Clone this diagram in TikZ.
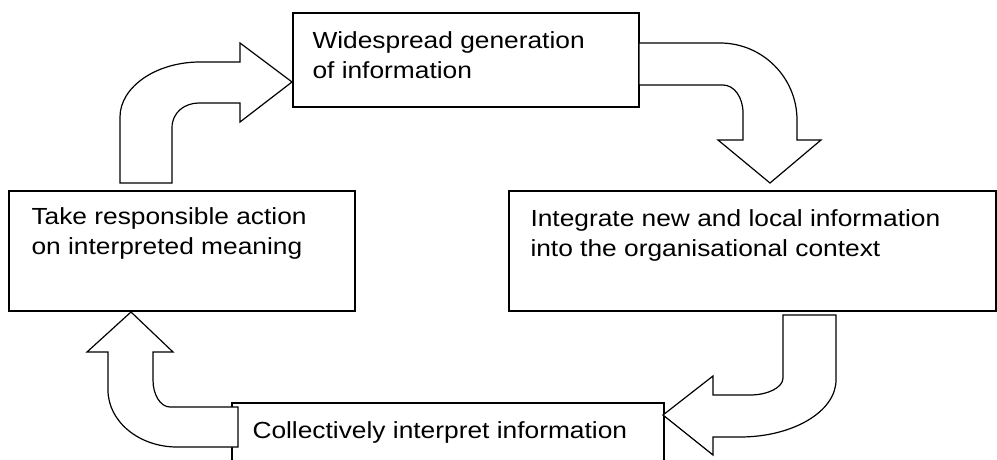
\documentclass[tikz,border=0pt]{standalone}
\usepackage{fontspec}
\setmainfont{Liberation Sans}[FakeStretch=1.13]
\usetikzlibrary{positioning}

\begin{document}
\begin{tikzpicture}[x=1pt, y=-1pt, box/.style={draw, line width=1.4pt, inner sep=0pt}, txt/.style={inner sep=0pt, align=left, font=\fontsize{23.3}{30}\selectfont}, blockarrow/.style={draw, fill=white, line width=1.2pt, line join=miter}]
\useasboundingbox (0,0) rectangle (997,460);
\clip (0,0) rectangle (997,460);
% the four stages
\node[box, minimum width=346pt, minimum height=94pt] (gen) at (466,60) {};
\node[box, minimum width=346pt, minimum height=120pt] (act) at (182,251) {};
\node[box, minimum width=487pt, minimum height=120pt] (integ) at (752.5,251) {};
\node[box, minimum width=432pt, minimum height=100pt] (interp) at (448,453) {};
\node[txt, below right=19pt and 20pt of gen.north west] (genT) {Widespread generation\\of information};
\node[txt, below right=17.5pt and 23pt of act.north west] (actT) {Take responsible action\\on interpreted meaning};
\node[txt, below right=19pt and 22pt of integ.north west] (integT) {Integrate new and local information\\into the organisational context};
\node[txt, below right=19.5pt and 21pt of interp.north west] (interpT) {Collectively interpret information};
% block arrows round the cycle
\draw[blockarrow] (120,183) -- (120,117) .. controls (120,87) and (156,62) .. (200,62) -- (240,62) -- (240,43) -- (292,82) -- (240,122) -- (240,103) -- (199,103) .. controls (185,103) and (172,112) .. (172,128) -- (172,183) -- cycle;
\draw[blockarrow] (639,43) -- (720,43) .. controls (762.5,43) and (797,77.5) .. (797,120) -- (797,140) -- (821,140) -- (770,183) -- (718,140) -- (743,140) -- (743,113) .. controls (743,97) and (734,85) .. (723,85) -- (639,85) -- cycle;
\draw[blockarrow] (783,315) -- (836,315) -- (836,380) .. controls (836,411.5) and (793,437) .. (740,437) -- (713,437) -- (713,455) -- (663,415) -- (713,376) -- (713,395) -- (750,395) .. controls (768,395) and (783,387.4) .. (783,378) -- cycle;
\draw[blockarrow] (238,407) -- (170,407) .. controls (160.6,407) and (153,395) .. (153,380) -- (153,352) -- (173,352) -- (131,312) -- (87,352) -- (108,352) -- (108,390) .. controls (108,421.5) and (139,447) .. (177,447) -- (238,447) -- cycle;
\end{tikzpicture}
\end{document}
